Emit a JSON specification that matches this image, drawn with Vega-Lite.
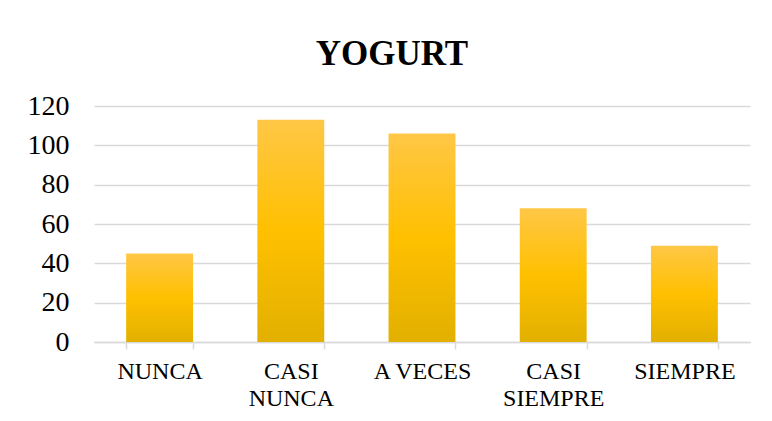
{
  "$schema": "https://vega.github.io/schema/vega-lite/v6.json",
  "autosize": {"type": "none"},
  "width": 656,
  "height": 236,
  "padding": {"left": 94, "top": 106, "right": 22, "bottom": 79},
  "background": "white",
  "title": {
    "text": "YOGURT",
    "font": "Liberation Serif",
    "fontSize": 35,
    "fontWeight": "bold",
    "color": "#000000",
    "anchor": "middle",
    "baseline": "alphabetic",
    "offset": -8,
    "dx": -30
  },
  "data": {
    "values": [
      {"categoria": "NUNCA", "valor": 45},
      {"categoria": "CASI NUNCA", "valor": 113},
      {"categoria": "A VECES", "valor": 106},
      {"categoria": "CASI SIEMPRE", "valor": 68},
      {"categoria": "SIEMPRE", "valor": 49}
    ]
  },
  "mark": {
    "type": "bar",
    "color": {
      "gradient": "linear",
      "x1": 0, "y1": 0, "x2": 0, "y2": 1,
      "stops": [
        {"offset": 0, "color": "#ffc746"},
        {"offset": 0.5, "color": "#ffc000"},
        {"offset": 1, "color": "#e2b000"}
      ]
    }
  },
  "encoding": {
    "x": {
      "field": "categoria",
      "type": "nominal",
      "sort": null,
      "title": null,
      "scale": {"paddingInner": 0.49, "paddingOuter": 0.245},
      "axis": {
        "labelAngle": 0,
        "labelFont": "Liberation Serif",
        "labelFontSize": 24,
        "labelColor": "#000000",
        "labelLineHeight": 27,
        "labelPadding": 10,
        "labelExpr": "datum.label == 'A VECES' ? datum.label : split(datum.label, ' ')",
        "domainColor": "#d9d9d9",
        "domainWidth": 1.5,
        "tickColor": "#d9d9d9",
        "tickWidth": 1.5,
        "tickSize": 7,
        "tickBand": "extent",
        "grid": false
      }
    },
    "y": {
      "field": "valor",
      "type": "quantitative",
      "title": null,
      "scale": {"domain": [0, 120], "nice": false},
      "axis": {
        "values": [0, 20, 40, 60, 80, 100, 120],
        "labelFont": "Liberation Serif",
        "labelFontSize": 28,
        "labelColor": "#000000",
        "labelPadding": 25,
        "ticks": false,
        "domain": false,
        "gridColor": "#d9d9d9",
        "gridWidth": 1.5
      }
    }
  },
  "config": {
    "view": {"stroke": null}
  }
}
